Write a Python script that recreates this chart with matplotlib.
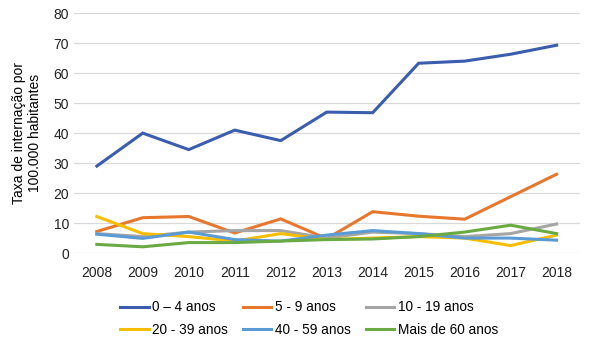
import matplotlib.pyplot as plt

# hospitalisation rate per 100,000 inhabitants, by age group
years = [2008, 2009, 2010, 2011, 2012, 2013, 2014, 2015, 2016, 2017, 2018]
age_groups = ["0 – 4 anos", "5 - 9 anos", "10 - 19 anos",
              "20 - 39 anos", "40 - 59 anos", "Mais de 60 anos"]
rate_0_4 = [29.0, 40.0, 34.5, 41.0, 37.5, 47.0, 46.8, 63.3, 64.0, 66.3, 69.3]
rate_5_9 = [7.2, 11.8, 12.2, 6.7, 11.4, 4.8, 13.8, 12.3, 11.3, 18.8, 26.3]
rate_10_19 = [6.5, 5.5, 7.0, 7.5, 7.5, 5.0, 7.0, 6.5, 5.5, 6.5, 9.7]
rate_20_39 = [12.2, 6.5, 5.5, 4.0, 6.5, 4.5, 5.0, 5.5, 5.0, 2.5, 6.0]
rate_40_59 = [6.3, 4.9, 7.0, 4.5, 4.0, 6.0, 7.5, 6.5, 5.0, 5.0, 4.3]
rate_60 = [2.9, 2.1, 3.5, 3.5, 4.0, 4.5, 4.7, 5.5, 7.0, 9.3, 6.5]

series = [rate_0_4, rate_5_9, rate_10_19, rate_20_39, rate_40_59, rate_60]
colors = ["#3A5DAE", "#E8772E", "#A5A5A5", "#F7BE00", "#5B9BD5", "#6AAA43"]

plt.rcParams['font.family'] = ['Liberation Sans', 'DejaVu Sans']

fig = plt.figure(figsize=(6, 3.37), dpi=100)
ax = fig.add_axes([0.123, 0.249, 0.843, 0.712])

lines = []
for vals, name, c in zip(series, age_groups, colors):
    ln, = ax.plot(years, vals, color=c, lw=2.2, label=name, solid_joinstyle='miter')
    lines.append(ln)

ax.set_xlim(2007.5, 2018.5)
ax.set_ylim(0, 80)
ax.set_xticks(years)
ax.set_yticks(range(0, 81, 10))
ax.grid(axis='y', color='#D9D9D9', lw=0.9)
ax.set_axisbelow(True)
for s in ax.spines.values():
    s.set_visible(False)
ax.tick_params(length=0, labelsize=10, colors='#222222')
ax.tick_params(axis='x', pad=9)
ax.set_ylabel("Taxa de internação por\n100.000 habitantes", fontsize=10, labelpad=8)

# legend fills column by column, so reorder to read across rows
order = [0, 3, 1, 4, 2, 5]
fig.legend([lines[i] for i in order], [age_groups[i] for i in order],
           loc='upper center', bbox_to_anchor=(0.515, 0.145), ncol=3,
           frameon=False, fontsize=9.8, handlelength=2.1, handletextpad=0.25,
           columnspacing=1.1, labelspacing=0.6)

fig.savefig("out.png", dpi=100)
